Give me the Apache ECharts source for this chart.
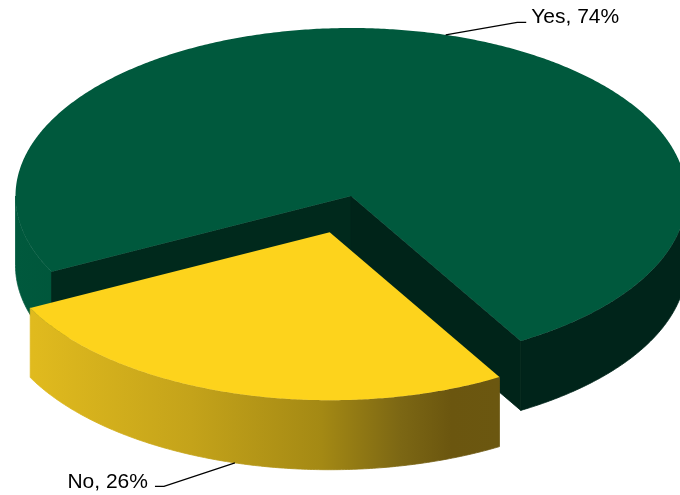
<!DOCTYPE html>
<html>
<head>
<meta charset="utf-8">
<style>html,body{margin:0;padding:0;background:#fff}#chart{width:680px;height:495px}</style>
<script src="https://cdn.jsdelivr.net/npm/echarts@6/dist/echarts.min.js"></script>
</head>
<body>
<div id="chart"></div>
<script>
// Survey answers, in percent
const categories = ['Yes', 'No'];
const shares = [74, 26];

// Pie projection
const centerX = 351, centerY = 196;
const radiusX = 335.5, radiusY = 168;
const depth = 69.5;
const firstSliceStart = 153.2;   // degrees, clockwise on screen from +x
const explodeBy = [0, 75.5];     // how far each slice is pulled out of the pie

const palette = [
  { top: '#00593d', cutA: '#00291c', cutB: '#002419',
    wall: [[0, '#00593d'], [0.1, '#00553a'], [0.55, '#00241a'], [1, '#00241a']] },
  { top: '#fdd31c', cutA: '#6b550e', cutB: '#6b550e',
    wall: [[0, '#e0ba1e'], [0.34, '#c4a31a'], [0.62, '#a48914'], [0.79, '#7c6714'], [0.9, '#6b560f'], [1, '#6b5710']] }
];
const wallSpan = [[15, 687], [33, 498]];

// Leader-line elbows and label anchors, relative to the slice's rim point
const leaders = [
  { elbow: [71.5, -12.5], end: [80.5, -12.5], align: 'left', pad: 5, baseY: 5 },
  { elbow: [-71, 23.5], end: [-80, 23.5], align: 'right', pad: -7, baseY: 6 }
];

const rad = d => d * Math.PI / 180;

function rimPoint(cx, cy, deg, drop) {
  return [cx + radiusX * Math.cos(rad(deg)), cy + radiusY * Math.sin(rad(deg)) + (drop || 0)];
}
function arc(cx, cy, from, to, drop) {
  const pts = [];
  const n = Math.max(2, Math.ceil(Math.abs(to - from) * 2));
  for (let i = 0; i <= n; i++) pts.push(rimPoint(cx, cy, from + (to - from) * i / n, drop));
  return pts;
}
function outerWall(cx, cy, from, to, fill) {
  const pts = arc(cx, cy, from, to, 0).concat(arc(cx, cy, to, from, depth));
  return { type: 'polygon', shape: { points: pts }, style: { fill, stroke: fill, lineWidth: 0.8 } };
}
function cutWall(cx, cy, deg, fill) {
  const p = rimPoint(cx, cy, deg);
  return { type: 'polygon',
    shape: { points: [[cx, cy], p, [p[0], p[1] + depth], [cx, cy + depth]] },
    style: { fill, stroke: fill, lineWidth: 0.8 } };
}

// Start and end angle of each slice from the shares
const total = shares.reduce((a, b) => a + b, 0);
const sliceAngles = [];
shares.reduce((start, v) => {
  const end = start + v / total * 360;
  sliceAngles.push([start, end]);
  return end;
}, firstSliceStart);

function renderSlice(params, api) {
  const i = params.dataIndex;
  const [start, end] = sliceAngles[i];
  const mid = (start + end) / 2;
  const cx = centerX + explodeBy[i] * Math.cos(rad(mid));
  const cy = centerY + explodeBy[i] * 0.5 * Math.sin(rad(mid));
  const look = palette[i];
  const wallFill = new echarts.graphic.LinearGradient(
    wallSpan[i][0], 0, wallSpan[i][1], 0,
    look.wall.map(s => ({ offset: s[0], color: s[1] })), true);

  const children = [];
  // Side walls that face the viewer: any part of the rim between 0° and 180°
  for (let k = -1; k <= 1; k++) {
    const from = Math.max(start, k * 360);
    const to = Math.min(end, k * 360 + 180);
    if (to > from) children.push(outerWall(cx, cy, from, to, wallFill));
  }
  if (i === 0) {
    children.push(cutWall(cx, cy, start, look.cutA));
    children.push(cutWall(cx, cy, end, look.cutB));
  }
  // Top face
  children.push({ type: 'polygon',
    shape: { points: [[cx, cy]].concat(arc(cx, cy, start, end, 0)) },
    style: { fill: look.top } });

  // Leader line and label
  const onFront = Math.sin(rad(mid)) > 0;
  const a = rimPoint(cx, cy, mid, onFront ? depth : 0);
  const l = leaders[i];
  const tail = [a[0] + l.end[0], a[1] + l.end[1]];
  children.push({ type: 'polyline',
    shape: { points: [a, [a[0] + l.elbow[0], a[1] + l.elbow[1]], tail] },
    style: { fill: null, stroke: '#000', lineWidth: 1.3 } });
  children.push({ type: 'text',
    style: {
      x: tail[0] + l.pad, y: tail[1] + l.baseY,
      text: categories[i] + ', ' + api.value(0) + '%',
      font: '21px "Liberation Sans", Arial, sans-serif',
      fill: '#000', align: l.align, verticalAlign: 'bottom'
    } });
  return { type: 'group', children };
}

const chart = echarts.init(document.getElementById('chart'), null, { renderer: 'canvas' });
chart.setOption({
  backgroundColor: '#fff',
  animation: false,
  series: [{
    type: 'custom',
    coordinateSystem: 'none',
    silent: true,
    clip: false,
    renderItem: renderSlice,
    data: shares.map((v, i) => ({ name: categories[i], value: v }))
  }]
});
</script>
</body>
</html>
